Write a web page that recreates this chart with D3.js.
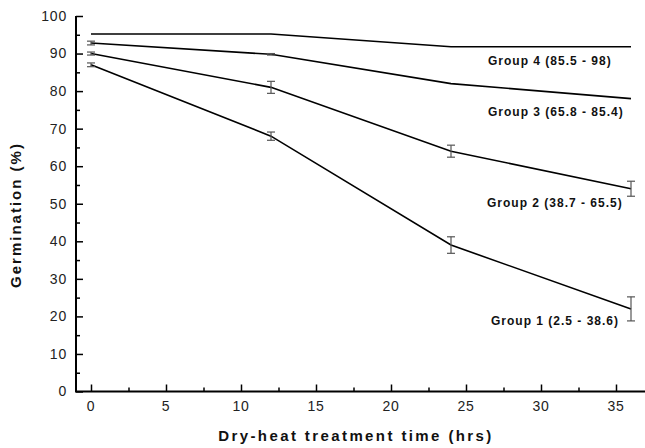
<!DOCTYPE html>
<meta charset="utf-8">
<body style="margin:0;background:#fff">
<script src="https://cdn.jsdelivr.net/npm/d3@7"></script>
<script>

var width = 645,
  height = 448;

// hours of dry-heat treatment
var hours = [0, 12, 24, 36];

var groupNames = ["Group 1 (2.5 - 38.6)", "Group 2 (38.7 - 65.5)", "Group 3 (65.8 - 85.4)", "Group 4 (85.5 - 98)"];

// mean germination (%) per group
var group1 = [87, 68, 39, 22];
var group2 = [90, 81, 64, 54];
var group3 = [92.8, 89.8, 82, 78];
var group4 = [95.2, 95.2, 91.8, 91.8];

// error bar half-heights
var err1 = [0.5, 1.1, 2.2, 3.2];
var err2 = [0.4, 1.6, 1.6, 2];
var err3 = [0.5, 0.2, 0, 0];
var err4 = [0, 0, 0, 0];

var yTicks = [0, 10, 20, 30, 40, 50, 60, 70, 80, 90, 100];
var xTicks = [0, 5, 10, 15, 20, 25, 30, 35];

var series = [
  {name: groupNames[0], values: group1, err: err1, lx: 491, ly: 321},
  {name: groupNames[1], values: group2, err: err2, lx: 487, ly: 203},
  {name: groupNames[2], values: group3, err: err3, lx: 488, ly: 112},
  {name: groupNames[3], values: group4, err: err4, lx: 488, ly: 61}
];

var x = d3.scaleLinear().domain([-1, 37]).range([76, 646]);
var y = d3.scaleLinear().domain([0, 100]).range([391.5, 16]);

var svg = d3.select("body").append("svg")
  .attr("width", width)
  .attr("height", height)
  .style("font-family", "Arial, 'Liberation Sans', sans-serif");

// y axis
var yAxis = svg.append("g")
  .attr("transform", "translate(" + x.range()[0] + ",0)")
  .call(d3.axisRight(y).tickValues(yTicks).tickSize(7).tickFormat(""));
yAxis.select(".domain").remove();
yAxis.selectAll(".tick line").attr("stroke", "#000").attr("stroke-width", 1.5);

svg.append("g")
  .attr("transform", "translate(" + x.range()[0] + ",0)")
  .call(d3.axisRight(y).tickValues(d3.range(5, 100, 10)).tickSize(4).tickFormat(""))
  .call(function(g) {
    g.select(".domain").remove();
    g.selectAll(".tick line").attr("stroke", "#000").attr("stroke-width", 1.5);
  });

svg.append("g").selectAll("text")
  .data(yTicks)
  .enter().append("text")
  .attr("x", 67)
  .attr("y", function(d) { return y(d); })
  .attr("dy", "0.35em")
  .attr("text-anchor", "end")
  .attr("font-size", 14)
  .attr("letter-spacing", 0.8)
  .attr("fill", "#222")
  .text(function(d) { return d; });

// x axis
var xAxis = svg.append("g")
  .attr("transform", "translate(0," + y(0) + ")")
  .call(d3.axisTop(x).tickValues(xTicks).tickSize(7).tickFormat(""));
xAxis.select(".domain").remove();
xAxis.selectAll(".tick line").attr("stroke", "#000").attr("stroke-width", 1.5);

svg.append("g")
  .attr("transform", "translate(0," + y(0) + ")")
  .call(d3.axisTop(x).tickValues(d3.range(2.5, 36, 5)).tickSize(4).tickFormat(""))
  .call(function(g) {
    g.select(".domain").remove();
    g.selectAll(".tick line").attr("stroke", "#000").attr("stroke-width", 1.5);
  });

svg.append("g").selectAll("text")
  .data(xTicks)
  .enter().append("text")
  .attr("x", function(d) { return x(d); })
  .attr("y", 406)
  .attr("dy", "0.35em")
  .attr("text-anchor", "middle")
  .attr("font-size", 14)
  .attr("letter-spacing", 0.8)
  .attr("fill", "#222")
  .text(function(d) { return d; });

// axis lines
svg.append("path")
  .attr("d", "M" + x.range()[0] + "," + y(100) + "V" + y(0) + "H" + width)
  .attr("fill", "none")
  .attr("stroke", "#000")
  .attr("stroke-width", 2);

// lines
var line = d3.line()
  .x(function(d, i) { return x(hours[i]); })
  .y(function(d) { return y(d); });

var g = svg.append("g").selectAll("g")
  .data(series)
  .enter().append("g");

g.append("path")
  .attr("d", function(d) { return line(d.values); })
  .attr("fill", "none")
  .attr("stroke", "#000")
  .attr("stroke-width", 1.6);

// error bars
g.each(function(s) {
  var bars = d3.select(this).selectAll(".err")
    .data(s.values.map(function(v, i) { return {h: hours[i], v: v, e: s.err[i]}; })
      .filter(function(d) { return d.e > 0; }))
    .enter().append("g")
    .attr("class", "err")
    .attr("stroke", "#555")
    .attr("stroke-width", 1.2);
  bars.append("line")
    .attr("x1", function(d) { return x(d.h); })
    .attr("x2", function(d) { return x(d.h); })
    .attr("y1", function(d) { return y(d.v + d.e); })
    .attr("y2", function(d) { return y(d.v - d.e); });
  [1, -1].forEach(function(sign) {
    bars.append("line")
      .attr("x1", function(d) { return x(d.h) - 4; })
      .attr("x2", function(d) { return x(d.h) + 4; })
      .attr("y1", function(d) { return y(d.v + sign * d.e); })
      .attr("y2", function(d) { return y(d.v + sign * d.e); });
  });
});

g.append("text")
  .attr("x", function(d) { return d.lx; })
  .attr("y", function(d) { return d.ly; })
  .attr("dy", "0.35em")
  .attr("font-size", 12)
  .attr("font-weight", "bold")
  .attr("letter-spacing", 1)
  .attr("fill", "#111")
  .text(function(d) { return d.name; });

// titles
svg.append("text")
  .attr("transform", "translate(21,215) rotate(-90)")
  .attr("text-anchor", "middle")
  .attr("font-size", 15)
  .attr("font-weight", "bold")
  .attr("letter-spacing", 2)
  .attr("fill", "#111")
  .text("Germination (%)");

svg.append("text")
  .attr("x", 356)
  .attr("y", 440.5)
  .attr("text-anchor", "middle")
  .attr("font-size", 15)
  .attr("font-weight", "bold")
  .attr("letter-spacing", 2.4)
  .attr("fill", "#111")
  .text("Dry-heat treatment time (hrs)");

</script>
</body>
</html>
